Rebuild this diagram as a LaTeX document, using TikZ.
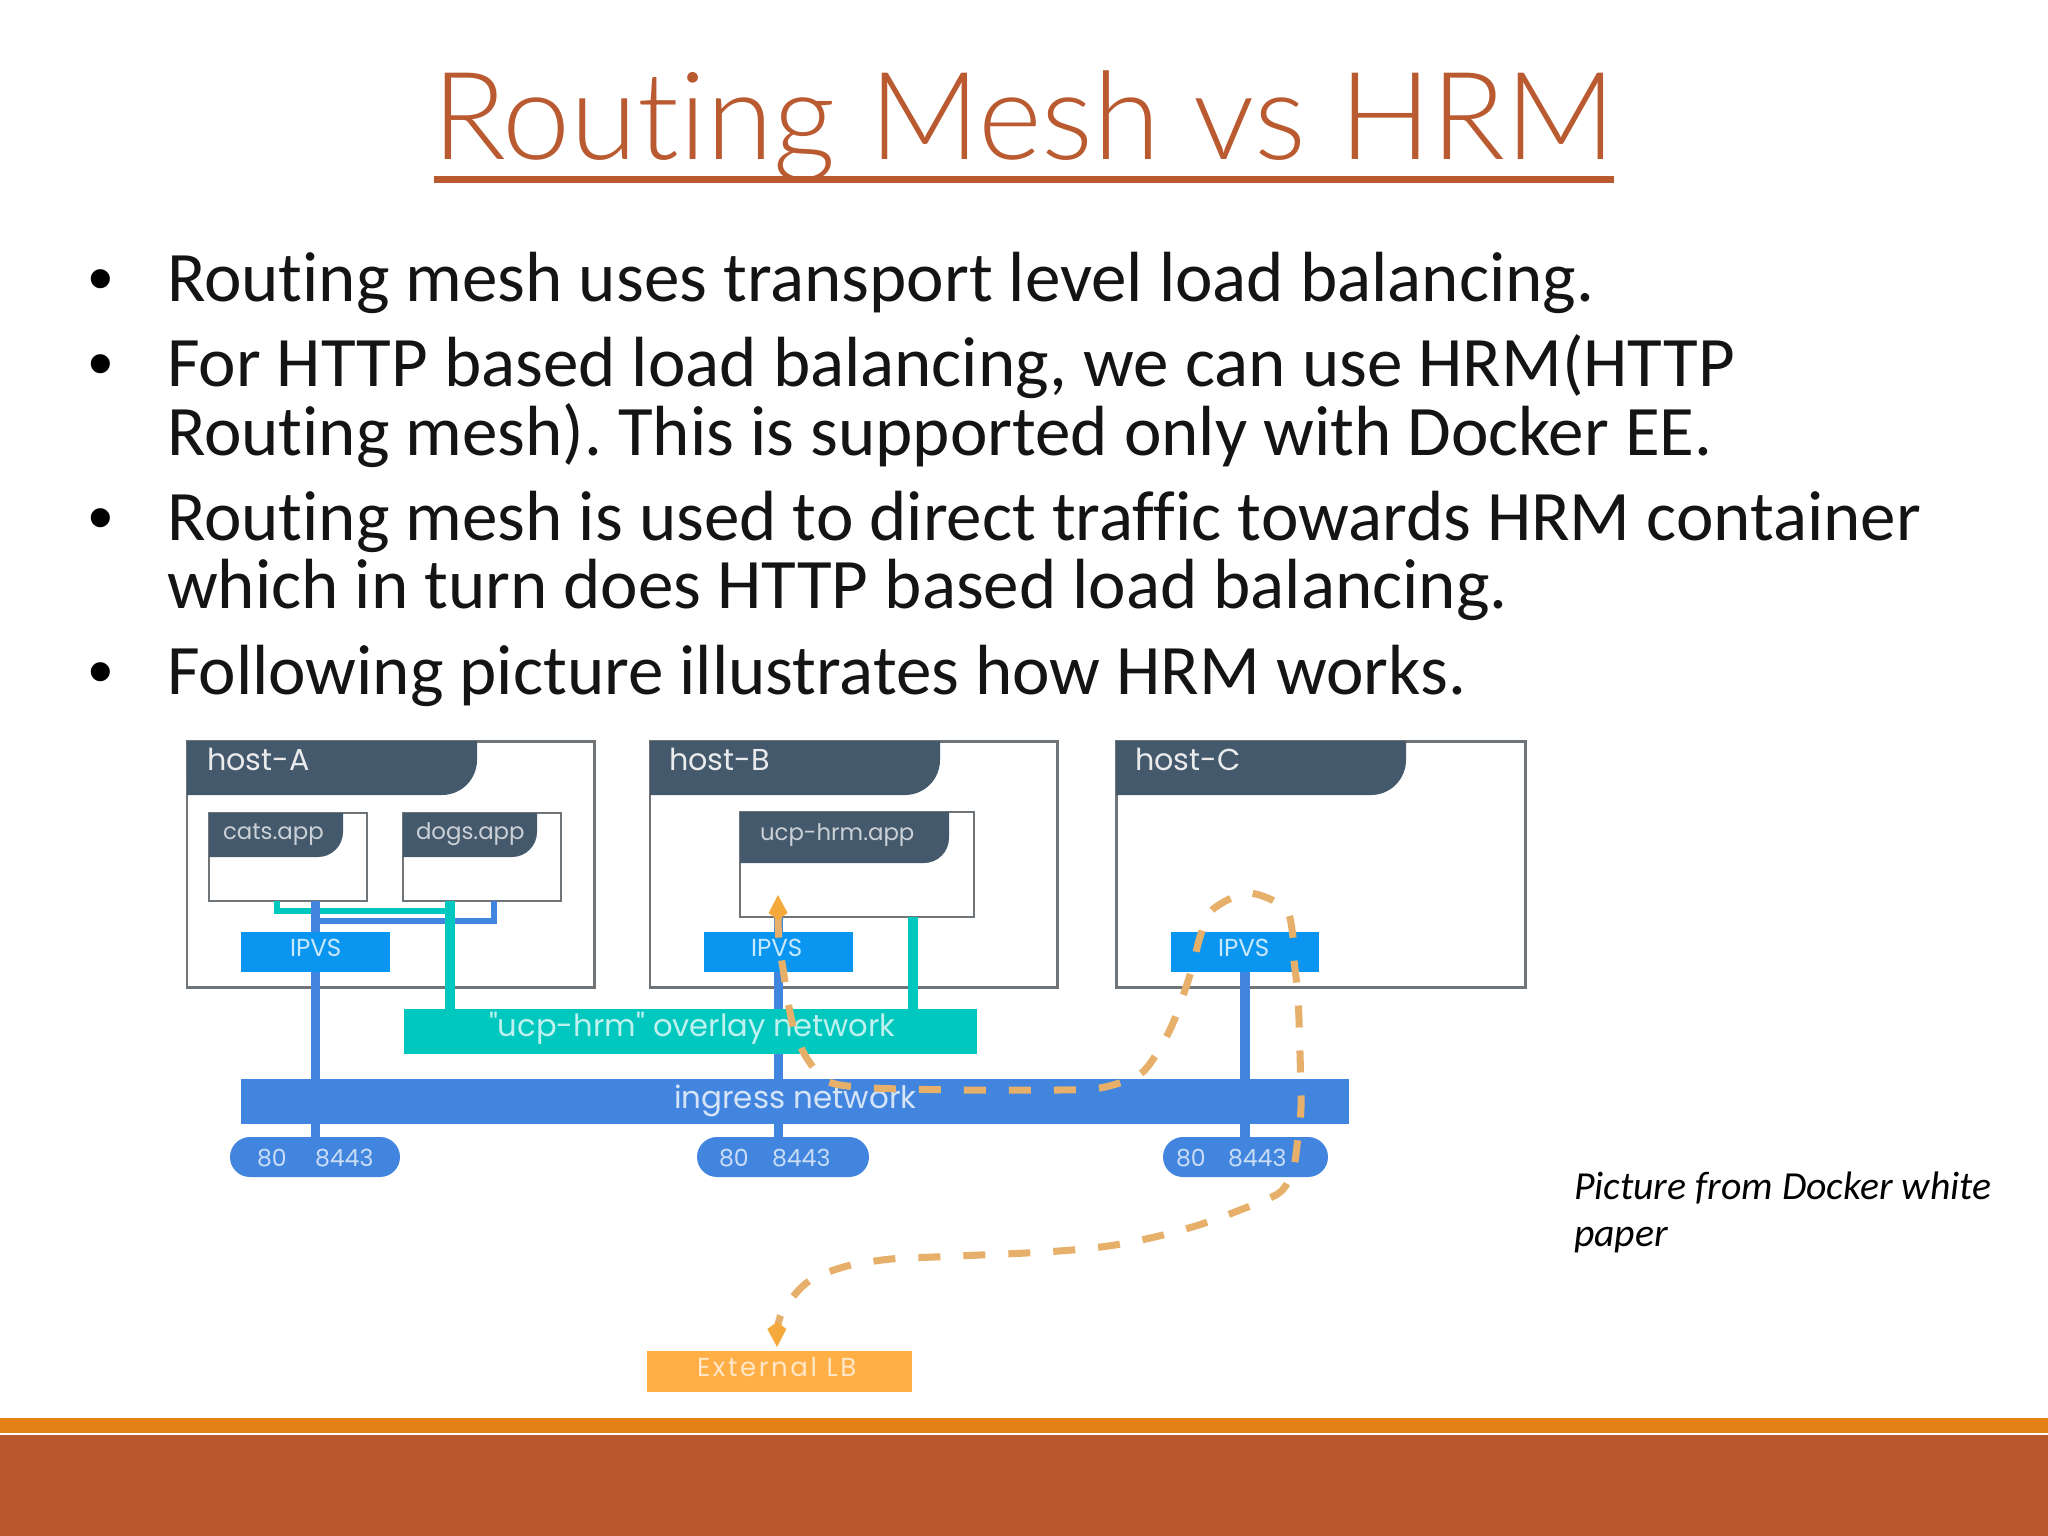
\documentclass[tikz,border=0pt]{standalone}
\usepackage{fontspec}
\setmainfont[Ligatures=NoCommon]{Carlito}
\newfontfamily\bul{Liberation Sans}
\newfontfamily\dia{Poppins}
\newfontfamily\titlef[Ligatures=NoCommon]{Lato Light}
\usetikzlibrary{arrows.meta,calc}
\definecolor{rust}{HTML}{B8582C}
\definecolor{titlec}{HTML}{BA5A30}
\definecolor{amberbar}{HTML}{E38116}
\definecolor{slate}{HTML}{44596B}
\definecolor{frame}{HTML}{6E7478}
\definecolor{netblue}{HTML}{4285DE}
\definecolor{ipvsblue}{HTML}{0A96F0}
\definecolor{tealc}{HTML}{00C8BE}
\definecolor{lbc}{HTML}{FFAF45}
\definecolor{dashc}{HTML}{E6B06A}
\definecolor{arrowc}{HTML}{F5A83C}
\newcommand{\bx}[7]{%
 \pgfmathsetmacro\bW{(#5-#3)*0.01}\pgfmathsetmacro\bH{(#6-#4)*0.01}%
 \node[#1,minimum width=\bW cm,minimum height=\bH cm] (#2) at ({(#3+#5)/2},{(#4+#6)/2}) {#7};}
\tikzset{
 hostbox/.style={draw=frame,line width=0.85pt,fill=white,inner sep=0,outer sep=0},
 appbox/.style={draw=frame,line width=0.75pt,fill=white,inner sep=0,outer sep=0},
 solidbox/.style={inner sep=0,outer sep=0},
 ipvsbox/.style={solidbox,fill=ipvsblue},
 overlaybox/.style={solidbox,fill=tealc},
 netbox/.style={solidbox,fill=netblue},
 lbbox/.style={solidbox,fill=lbc},
 pill/.style={solidbox,fill=netblue,rounded corners=0.2cm},
 txt/.style={anchor=base west,inner sep=0,outer sep=0},
 body/.style={txt,font=\frenchspacing\fontsize{20.2}{24}\selectfont,text=black!92},
 bulletmark/.style={txt,font=\bul\fontsize{20}{24}\selectfont,text=black},
 note/.style={txt,font=\itshape\fontsize{11.3}{13}\selectfont,text=black},
 hosttxt/.style={txt,font=\dia\fontsize{8.6}{10}\selectfont,text=white!88!slate},
 apptxt/.style={txt,font=\dia\fontsize{6.5}{8}\selectfont,text=white!72!slate},
 ipvstxt/.style={txt,font=\dia\fontsize{7}{8}\selectfont,text=white!78!ipvsblue},
 nettxt/.style={txt,font=\dia\fontsize{8.8}{10}\selectfont,text=white!78!netblue},
 overlaytxt/.style={txt,font=\dia\fontsize{8.7}{10}\selectfont,text=white!75!tealc},
 porttxt/.style={txt,font=\dia\fontsize{6.7}{8}\selectfont,text=white!72!netblue},
 lbtxt/.style={txt,font=\dia\addfontfeature{LetterSpace=10}\fontsize{7.4}{8}\selectfont,text=white!70!lbc},
 tab/.style={fill=slate},
 bluelink/.style={draw=netblue,line width=2.6pt},
 teallink/.style={draw=tealc,line width=2.6pt},
 bluetie/.style={draw=netblue,line width=1.7pt},
 tealtie/.style={draw=tealc,line width=1.7pt},
 route/.style={draw=dashc,line width=2pt,dash pattern=on 0.22cm off 0.23cm,
   {Kite[length=.25cm,width=.19cm,inset=.07cm,fill=arrowc,color=arrowc]}-{Kite[length=.25cm,width=.19cm,inset=.07cm,fill=arrowc,color=arrowc]}},
}
\begin{document}
\begin{tikzpicture}[x=0.01cm,y=-0.01cm]
\useasboundingbox (0,0) rectangle (2048,1536);
\fill[white] (0,0) rectangle (2048,1536);
% bottom bars
\fill[amberbar] (0,1418) rectangle (2048,1433);
\fill[rust] (0,1434.5) rectangle (2048,1536);
% title
\node[anchor=base,inner sep=0,text=titlec,font=\titlef\fontsize{34.7}{40}\selectfont] (title) at (1024,159) {Routing Mesh vs HRM};
\fill[titlec] (434,176) rectangle (1614,183);
% body
\foreach \yy in {302,387,541,695}{\node[bulletmark] at (88,\yy) {•};}
\node[body] (l1) at (167,301) {Routing mesh uses transport level load balancing.};
\node[body] (l2) at (167,386) {For HTTP based load balancing, we can use HRM(HTTP};
\node[body] (l3) at (167,455) {Routing mesh). This is supported only with Docker EE.};
\node[body] (l4) at (167,540) {Routing mesh is used to direct traffic towards HRM container};
\node[body] (l5) at (167,608) {which in turn does HTTP based load balancing.};
\node[body] (l6) at (167,694) {Following picture illustrates how HRM works.};
\node[note] (c1) at (1574,1199) {Picture from Docker white};
\node[note] (c2) at (1574,1246) {paper};
% hosts
\bx{hostbox}{hostA}{187}{741}{594}{987}{}
\bx{hostbox}{hostB}{650}{741}{1057}{987}{}
\bx{hostbox}{hostC}{1116}{741}{1525}{987}{}
\fill[tab] (hostA.north west) -- (477,741) [rounded corners=0.35cm] -- (477,795) [sharp corners] -- (187,795) -- cycle;
\fill[tab] (hostB.north west) -- (940,741) [rounded corners=0.35cm] -- (940,795) [sharp corners] -- (650,795) -- cycle;
\fill[tab] (hostC.north west) -- (1406,741) [rounded corners=0.35cm] -- (1406,795) [sharp corners] -- (1116,795) -- cycle;
% apps
\bx{appbox}{cats}{209}{813}{367}{901}{}
\bx{appbox}{dogs}{403}{813}{561}{901}{}
\bx{appbox}{ucp}{740}{812}{974}{917}{}
\fill[tab] (cats.north west) -- (343,813) [rounded corners=0.25cm] -- (343,857) [sharp corners] -- (209,857) -- cycle;
\fill[tab] (dogs.north west) -- (537,813) [rounded corners=0.25cm] -- (537,857) [sharp corners] -- (403,857) -- cycle;
\fill[tab] (ucp.north west) -- (949,812) [rounded corners=0.25cm] -- (949,863) [sharp corners] -- (740,863) -- cycle;
% network boxes
\bx{ipvsbox}{ipvsA}{241}{932}{390}{972}{}
\bx{ipvsbox}{ipvsB}{704}{932}{853}{972}{}
\bx{ipvsbox}{ipvsC}{1171}{932}{1319}{972}{}
\bx{overlaybox}{overlay}{404}{1009}{977}{1054}{}
\bx{netbox}{ingress}{241}{1079}{1349}{1124}{}
\bx{pill}{pillA}{230}{1137}{400}{1177}{}
\bx{pill}{pillB}{697}{1137}{869}{1177}{}
\bx{pill}{pillC}{1163}{1137}{1328}{1177}{}
\bx{lbbox}{lb}{647}{1351}{912}{1392}{}
% connectors
\coordinate (tealA) at (450,1000);
\coordinate (tealB) at (913,1000);
\coordinate (catsT) at (277,901);
\coordinate (dogsB) at (494,901);
\coordinate (catsTurn) at (277,911);
\coordinate (dogsTurn) at (494,921);
\draw[tealtie] (catsT) |- (tealA |- catsTurn);
\draw[bluetie] (dogsB) |- (ipvsA.north |- dogsTurn);
\draw[teallink] (dogs.south -| tealA) -- (overlay.north -| tealA);
\draw[teallink] (ucp.south -| tealB) -- (overlay.north -| tealB);
\draw[bluelink] (ipvsA.north |- cats.south) -- (ipvsA.north);
\draw[bluelink] (ipvsA.south) -- (ipvsA.south |- ingress.north);
\draw[bluelink] (ipvsA.south |- ingress.south) -- (ipvsA.south |- pillA.north);
\draw[bluelink] (ipvsB.north |- ucp.south) -- (ipvsB.north);
\draw[bluelink] (ipvsB.south) -- (ipvsB.south |- overlay.north);
\draw[bluelink] (ipvsB.south |- overlay.south) -- (ipvsB.south |- ingress.north);
\draw[bluelink] (ipvsB.south |- ingress.south) -- (ipvsB.south |- pillB.north);
\draw[bluelink] (ipvsC.south) -- (ipvsC.south |- ingress.north);
\draw[bluelink] (ipvsC.south |- ingress.south) -- (ipvsC.south |- pillC.north);
% labels
\node[hosttxt] (tA) at (207,770) {host-A};
\node[hosttxt] (tB) at (669,770) {host-B};
\node[hosttxt] (tC) at (1135,770) {host-C};
\node[apptxt] (tcats) at (223,839) {cats.app};
\node[apptxt] (tdogs) at (416,839) {dogs.app};
\node[apptxt] (tucp) at (760,840) {ucp-hrm.app};
\node[ipvstxt] (i1) at (290,956) {IPVS};
\node[ipvstxt] (i2) at (751,956) {IPVS};
\node[ipvstxt] (i3) at (1218,956) {IPVS};
\node[overlaytxt] (tov) at (489,1036) {"ucp-hrm" overlay network};
\node[nettxt] (ting) at (674,1108) {ingress network};
\foreach \n/\a/\b in {a/257/315,b/719/772,c/1176/1228}{
 \node[porttxt] (p\n80) at (\a,1166) {80};
 \node[porttxt] (p\n84) at (\b,1166) {8443};
}
\node[lbtxt] (tlb) at (697,1376) {External LB};
% route
\coordinate (tipU) at (778,895);
\coordinate (tipL) at (777,1347);
\draw[route] plot[smooth,tension=0.5] coordinates {(tipU) (779,940) (784,975) (788,1002) (795,1033) (808,1060) (829,1082) (873,1088) (965,1090) (1057,1090) (1100,1088) (1139,1075) (1159,1050) (1173,1023) (1185,990) (1193,965) (1200,937) (1212,910) (1248,893) (1285,908) (1293,937) (1294,960) (1298,997) (1300,1053) (1301,1107) (1298,1137) (1293,1170) (1279,1193) (1240,1210) (1202,1224) (1159,1236) (1115,1245) (1072,1250) (1026,1253) (980,1255) (934,1257) (891,1259) (847,1266) (809,1281) (785,1307) (778,1325) (tipL)};
\end{tikzpicture}
\end{document}
